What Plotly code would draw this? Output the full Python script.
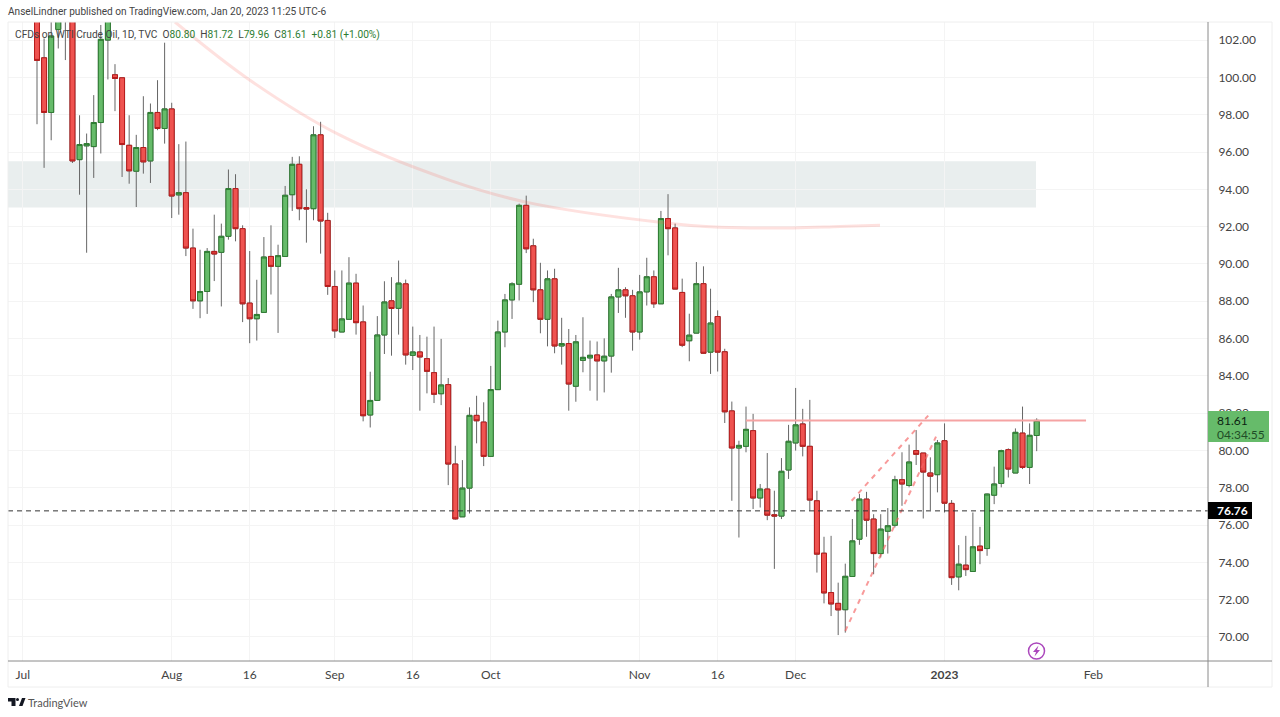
import plotly.graph_objects as go

# daily WTI bars, one value per session
open_ = [105.0, 101.05, 98.12, 102.57, 105.0, 104.2, 95.59, 96.33, 96.29, 97.58,
         102.0, 100.14, 99.98, 96.36, 94.97, 96.24, 95.52, 98.12, 97.26, 98.31,
         93.7, 93.82, 90.85, 88.02, 88.52, 90.67, 90.62, 91.48, 94.04, 91.89,
         87.9, 87.06, 87.4, 90.4, 89.87, 90.4, 93.71, 95.34, 93.02, 92.96,
         96.92, 92.33, 88.79, 86.35, 87.03, 88.97, 86.89, 81.9, 82.68, 86.19,
         88.02, 87.62, 88.93, 85.1, 85.28, 84.92, 84.17, 83.04, 83.53, 79.27,
         76.44, 77.98, 81.88, 81.52, 79.68, 83.26, 86.35, 88.07, 88.91, 93.14,
         90.97, 88.61, 87.03, 89.2, 85.6, 85.73, 83.44, 84.83, 84.96, 85.12,
         84.8, 85.06, 88.23, 88.61, 88.29, 86.35, 88.5, 89.31, 87.86, 92.43,
         91.93, 88.47, 85.88, 86.29, 88.94, 85.27, 87.18, 85.29, 82.12, 80.13,
         80.22, 81.06, 77.45, 77.93, 76.55, 76.48, 78.95, 80.4, 81.42, 80.22,
         77.3, 74.49, 72.38, 71.8, 71.46, 73.24, 75.24, 77.39, 76.32, 74.47,
         75.67, 75.99, 78.43, 78.12, 79.99, 79.86, 78.79, 78.7, 80.52, 77.16,
         73.22, 73.85, 73.51, 74.87, 74.74, 77.6, 78.23, 80.04, 78.79, 80.93,
         79.09, 80.80]
high = [105.6, 102.09, 103.5, 105.0, 105.5, 104.8, 97.97, 96.99, 99.05, 102.81,
        104.5, 100.71, 99.98, 97.97, 96.92, 98.99, 98.6, 99.85, 101.86, 98.64,
        96.42, 96.56, 91.89, 90.76, 90.85, 92.64, 92.16, 95.06, 94.81, 92.07,
        90.69, 89.15, 91.44, 92.07, 91.03, 94.18, 95.74, 95.77, 94.0, 97.38,
        97.62, 92.74, 89.65, 89.65, 90.36, 89.47, 87.77, 84.22, 87.2, 89.07,
        89.29, 90.18, 89.16, 86.64, 86.19, 86.1, 86.64, 85.98, 83.88, 80.25,
        79.48, 82.31, 82.93, 82.58, 84.53, 86.96, 88.39, 89.02, 93.23, 93.66,
        91.35, 90.06, 89.65, 89.74, 87.11, 86.51, 86.19, 87.14, 85.89, 85.84,
        86.01, 88.39, 89.79, 88.75, 88.61, 89.41, 90.33, 89.65, 92.84, 93.74,
        92.16, 89.21, 87.33, 90.1, 89.87, 88.67, 87.51, 85.45, 82.62, 80.52,
        82.35, 81.96, 78.2, 79.86, 77.84, 79.59, 81.37, 83.35, 82.23, 82.71,
        77.84, 75.37, 75.42, 72.91, 73.93, 76.32, 77.66, 77.78, 76.58, 76.58,
        76.91, 78.64, 79.9, 80.31, 81.09, 79.86, 79.63, 80.56, 81.45, 77.34,
        74.92, 75.42, 76.67, 75.9, 77.69, 79.13, 80.04, 80.11, 81.18, 82.35,
        81.45, 81.72]
low = [97.49, 95.15, 96.63, 101.55, 100.93, 95.41, 93.71, 90.6, 94.61, 95.92,
       99.89, 98.19, 94.66, 94.3, 93.05, 94.84, 94.34, 97.17, 96.45, 92.46,
       92.64, 90.42, 87.59, 87.09, 87.32, 89.08, 87.72, 91.3, 91.21, 86.88,
       85.75, 85.89, 87.4, 88.36, 86.3, 90.4, 92.84, 92.34, 91.14, 92.34,
       90.55, 88.34, 86.03, 86.35, 87.03, 86.21, 81.56, 81.23, 82.68, 85.17,
       85.08, 86.21, 84.6, 84.31, 82.13, 83.06, 82.54, 82.43, 78.14, 76.29,
       76.44, 76.62, 80.38, 79.16, 79.68, 83.26, 85.53, 87.05, 88.04, 90.58,
       87.95, 86.28, 85.58, 85.21, 84.6, 82.13, 82.61, 84.19, 83.2, 82.67,
       83.11, 84.17, 87.37, 87.11, 85.35, 85.94, 87.77, 87.64, 87.86, 90.46,
       88.65, 85.54, 84.78, 86.29, 85.18, 84.1, 84.23, 81.47, 77.3, 75.33,
       79.9, 76.86, 76.94, 76.26, 73.65, 76.32, 78.47, 79.99, 79.68, 76.77,
       73.45, 71.8, 71.12, 70.1, 70.23, 73.24, 74.94, 75.37, 73.36, 74.26,
       74.47, 75.87, 77.03, 78.02, 79.22, 76.35, 76.8, 77.75, 76.67, 72.79,
       72.5, 73.27, 73.51, 73.9, 74.35, 77.12, 78.02, 78.55, 78.79, 79.0,
       78.2, 79.96]
close = [100.91, 98.12, 102.22, 104.5, 103.6, 95.52, 96.4, 96.45, 97.58, 102.04,
         103.6, 99.94, 96.4, 94.99, 96.24, 95.47, 98.12, 97.26, 98.31, 93.64,
         93.82, 90.85, 88.02, 88.52, 90.67, 90.53, 91.48, 94.04, 91.89, 87.86,
         87.06, 87.29, 90.37, 89.87, 90.44, 93.68, 95.34, 92.96, 92.94, 96.92,
         92.3, 88.79, 86.41, 87.05, 88.97, 86.85, 81.86, 82.68, 86.19, 87.96,
         87.61, 88.97, 85.12, 85.28, 85.01, 84.24, 83.01, 83.51, 79.27, 76.33,
         77.98, 81.88, 81.59, 79.68, 83.26, 86.35, 88.07, 88.93, 93.14, 90.81,
         88.61, 87.03, 89.2, 85.6, 85.73, 83.56, 85.82, 84.99, 85.1, 84.8,
         85.05, 88.23, 88.61, 88.29, 86.35, 88.5, 89.31, 87.86, 92.43, 91.89,
         88.65, 85.64, 86.18, 88.94, 85.21, 86.83, 85.27, 82.07, 80.13, 80.27,
         81.13, 77.45, 77.93, 76.53, 76.48, 78.88, 80.49, 81.37, 80.22, 77.34,
         74.44, 72.36, 71.77, 71.45, 73.25, 75.15, 77.39, 76.26, 74.47, 75.78,
         75.96, 78.43, 78.2, 79.38, 79.79, 78.84, 78.62, 80.4, 77.17, 73.18,
         73.9, 73.61, 74.83, 74.63, 77.66, 78.2, 79.99, 79.0, 80.97, 79.09,
         80.81, 81.61]
bars = list(range(len(close)))

# time axis labels, placed by bar number
tick_bars = [-2, 19, 30, 42, 53, 64, 85, 96, 107, 128, 149]
tick_labels = ["Jul", "Aug", "16", "Sep", "16", "Oct", "Nov", "16", "Dec", "<b>2023</b>", "Feb"]
price_ticks = [70, 72, 74, 76, 78, 80, 82, 84, 86, 88, 90, 92, 94, 96, 98, 100, 102]

# drawings the author put on the chart
curve_bars = [19.46, 30.04, 42.74, 58.25, 69.11, 87.87, 96.33, 106.63, 113.26, 118.9]
curve_prices = [102.97, 99.85, 96.9, 94.48, 93.3, 92.23, 91.96, 91.93, 92.01, 92.07]
channel_top_bars = [114.9, 125.7]
channel_top_prices = [77.3, 81.87]
channel_low_bars = [114.0, 126.8]
channel_low_prices = [70.32, 80.74]
resistance_bars = [100.0, 147.96]
resistance_price = 81.6
support_price = 76.76
zone_prices = [93.03, 95.5]

WIDTH, HEIGHT = 1280, 717
LEFT, RIGHT, TOP, BOTTOM = 8, 1208, 22, 661
FONT = "Lato"
HEADER_FONT = "Roboto"


def px(x):
    return (x - LEFT) / (RIGHT - LEFT)


def py(y):
    return (BOTTOM - y) / (BOTTOM - TOP)


def path(points):
    return "M" + " L".join(f"{px(x):.5f},{py(y):.5f}" for x, y in points) + " Z"


def paper_line(x0, y0, x1, y1, color, width=1):
    return dict(type="line", xref="paper", yref="paper", x0=px(x0), y0=py(y0), x1=px(x1), y1=py(y1),
                line=dict(color=color, width=width), layer="above")


def paper_rect(x0, y0, x1, y1, color):
    return dict(type="rect", xref="paper", yref="paper", x0=px(x0), y0=py(y0), x1=px(x1), y1=py(y1),
                fillcolor=color, line=dict(width=0), layer="above")


def label(x, y, text, size=12, color="#444444", family=FONT):
    return dict(xref="paper", yref="paper", x=px(x), y=py(y), text=text, showarrow=False,
                xanchor="left", yanchor="middle", align="left", borderpad=0, borderwidth=0,
                font=dict(family=family, size=size, color=color))


fig = go.Figure()

# wicks first, then the bodies on top so the outline can differ from the wick
fig.add_trace(go.Candlestick(
    x=bars, open=open_, high=high, low=low, close=close, hoverinfo="skip", whiskerwidth=0,
    increasing=dict(line=dict(color="#666666", width=1), fillcolor="#666666"),
    decreasing=dict(line=dict(color="#666666", width=1), fillcolor="#666666"),
))
fig.add_trace(go.Candlestick(
    x=bars, open=open_, close=close, hoverinfo="skip",
    high=[max(o, c) for o, c in zip(open_, close)],
    low=[min(o, c) for o, c in zip(open_, close)],
    increasing=dict(line=dict(color="#2e7d32", width=1), fillcolor="#66bb6a"),
    decreasing=dict(line=dict(color="#b71c1c", width=1), fillcolor="#ef5350"),
))

fig.add_trace(go.Scatter(x=curve_bars, y=curve_prices, mode="lines", hoverinfo="skip",
                         line=dict(color="rgba(250,90,80,0.18)", width=3, shape="spline")))
for xs, ys in [(channel_top_bars, channel_top_prices), (channel_low_bars, channel_low_prices)]:
    fig.add_trace(go.Scatter(x=xs, y=ys, mode="lines", hoverinfo="skip",
                             line=dict(color="rgba(244,100,100,0.65)", width=2, dash="5px,5px")))
fig.add_trace(go.Scatter(x=resistance_bars, y=[resistance_price, resistance_price], mode="lines",
                         hoverinfo="skip", line=dict(color="#f5a3a3", width=2)))

shapes = [
    dict(type="rect", xref="paper", yref="y", x0=0, x1=px(1036), y0=zone_prices[0], y1=zone_prices[1],
         fillcolor="#e9eeee", line=dict(width=0), layer="below"),
    dict(type="line", xref="paper", yref="y", x0=0, x1=1, y0=support_price, y1=support_price,
         line=dict(color="#333333", width=1, dash="5px,4px"), layer="above"),
    # frame around the pane and the price scale
    paper_line(LEFT, TOP, 1272, TOP, "#eeeeee"),
    paper_line(LEFT, TOP, LEFT, 687, "#eeeeee"),
    paper_line(LEFT, 687, 1272, 687, "#eeeeee"),
    paper_line(1272, TOP, 1272, 687, "#eeeeee"),
    paper_line(LEFT, BOTTOM, 1272, BOTTOM, "#8a8a8a"),
    paper_line(RIGHT, TOP, RIGHT, 687, "#8a8a8a"),
    # last price tags
    paper_rect(RIGHT, 411, 1269, 442, "#66bb6a"),
    paper_rect(RIGHT, 502, 1252, 519, "#000000"),
    # pro badge
    dict(type="circle", xref="paper", yref="paper", x0=px(1028.5), x1=px(1044.5), y0=py(643), y1=py(659),
         line=dict(color="#ab47bc", width=1.5), layer="above"),
    dict(type="path", xref="paper", yref="paper", fillcolor="#ab47bc", line=dict(width=0), layer="above",
         path=path([(1038.5, 645.5), (1033, 652), (1036, 652), (1034.5, 656.5), (1040, 650), (1037, 650)])),
    # TradingView logo
    dict(type="path", xref="paper", yref="paper", fillcolor="#131722", line=dict(width=0), layer="above",
         path=path([(8, 698), (15.5, 698), (15.5, 706), (11.5, 706), (11.5, 701.5), (8, 701.5)])),
    dict(type="path", xref="paper", yref="paper", fillcolor="#131722", line=dict(width=0), layer="above",
         path=path([(19, 706), (22, 698), (25.5, 698), (22.5, 706)])),
    dict(type="circle", xref="paper", yref="paper", fillcolor="#131722", line=dict(width=0), layer="above",
         x0=px(16), x1=px(19), y0=py(698), y1=py(701)),
]

up = "#2e7d32"
ohlc = "".join(f'{k}<span style="color:{up}">{v}</span>&nbsp;&nbsp;'
               for k, v in [("O", "80.80"), ("H", "81.72"), ("L", "79.96"), ("C", "81.61")])
annotations = [
    label(8, 12, "AnselLindner published on TradingView.com, Jan 20, 2023 11:25 UTC-6", size=10.1, family=HEADER_FONT),
    label(15, 35, "CFDs on WTI Crude Oil, 1D, TVC&nbsp;&nbsp;" + ohlc
          + f'<span style="color:{up}">+0.81 (+1.00%)</span>', size=10.2, family=HEADER_FONT),
    label(1217, 420.5, "81.61", color="#0c2412"),
    label(1217, 434, "04:34:55", color="#1f4d27"),
    label(1217, 510.5, "<b>76.76</b>", color="#ffffff"),
    label(28, 702.5, "TradingView", size=11, color="#555555"),
]

fig.update_layout(
    width=WIDTH, height=HEIGHT, showlegend=False, plot_bgcolor="white", paper_bgcolor="white",
    margin=dict(l=LEFT, r=WIDTH - RIGHT, t=TOP, b=HEIGHT - BOTTOM),
    boxmode="overlay", boxgap=0.3, boxgroupgap=0,
    shapes=shapes, annotations=annotations, font=dict(family=FONT, size=12, color="#444444"),
)
fig.update_xaxes(
    range=[-4.09, 165.16], rangeslider_visible=False, tickmode="array", tickvals=tick_bars, ticktext=tick_labels,
    showgrid=True, gridcolor="#f4f4f4", zeroline=False, showline=False,
    ticks="outside", ticklen=3, tickcolor="rgba(0,0,0,0)",
)
fig.update_yaxes(
    range=[68.71, 102.97], side="right", tickmode="array", tickvals=price_ticks,
    ticktext=[f"{p:.2f}" for p in price_ticks], showgrid=True, gridcolor="#f4f4f4", zeroline=False, showline=False,
    ticks="outside", ticklen=7, tickcolor="rgba(0,0,0,0)",
)

# drop the browser's default body margin so the figure sits at the page corner
fig.write_html("out.html", config={"displayModeBar": False}, post_script="document.body.style.margin='0';")
